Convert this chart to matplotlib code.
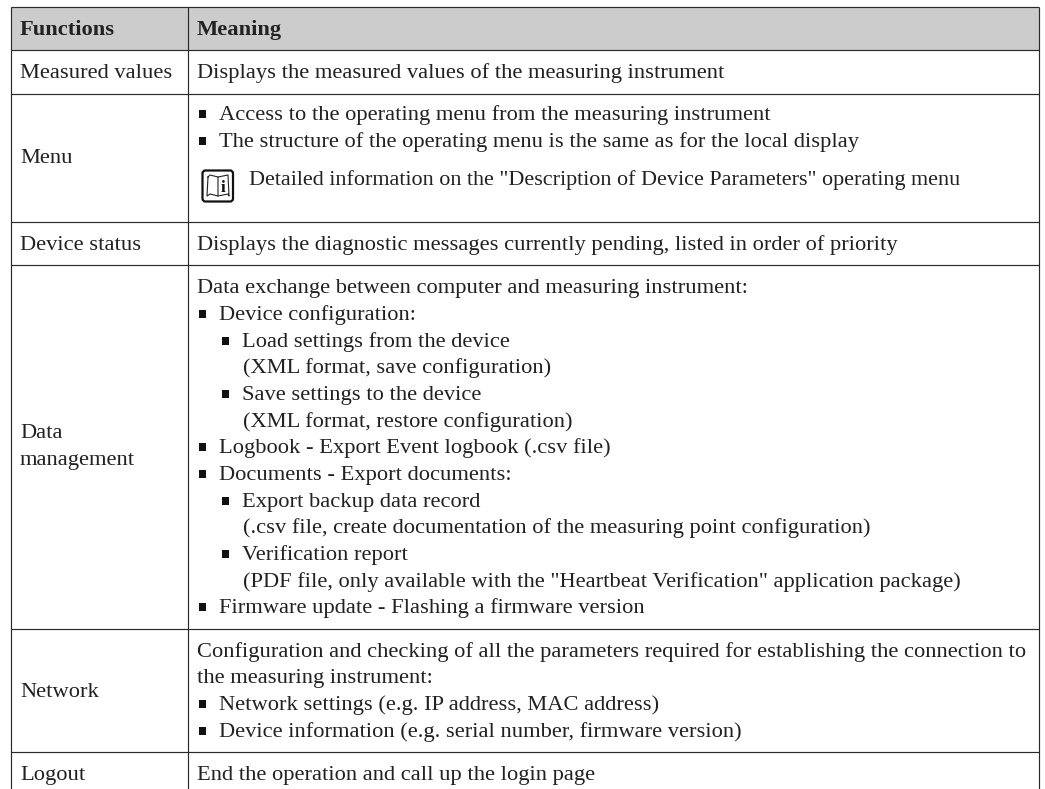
import matplotlib
matplotlib.use("Agg")
import matplotlib.pyplot as plt
from matplotlib.patches import Rectangle, FancyBboxPatch

W, H = 1045, 789
FONT = "Liberation Serif"
FS = 16.2
TXT = "#222222"

headers = ["Functions", "Meaning"]
functions = ["Measured values", "Menu", "Device status", "Data\nmanagement", "Network", "Logout"]

row_lines = [7, 50, 93.5, 222, 265, 628.5, 752]
col_lines = [11, 188, 1039]

function_baselines = [78, 163, 250, 438, 697, 780]

# (level, bullet, text, baseline)
meaning_lines = [
    (0, False, "Displays the measured values of the measuring instrument", 78),
    (1, True, "Access to the operating menu from the measuring instrument", 120),
    (1, True, "The structure of the operating menu is the same as for the local display", 147),
    (0, False, "Displays the diagnostic messages currently pending, listed in order of priority", 250),
    (0, False, "Data exchange between computer and measuring instrument:", 293),
    (1, True, "Device configuration:", 320),
    (2, True, "Load settings from the device", 347),
    (2, False, "(XML format, save configuration)", 373),
    (2, True, "Save settings to the device", 400),
    (2, False, "(XML format, restore configuration)", 427),
    (1, True, "Logbook - Export Event logbook (.csv file)", 453),
    (1, True, "Documents - Export documents:", 480),
    (2, True, "Export backup data record", 507),
    (2, False, "(.csv file, create documentation of the measuring point configuration)", 533),
    (2, True, "Verification report", 560),
    (2, False, "(PDF file, only available with the \"Heartbeat Verification\" application package)", 587),
    (1, True, "Firmware update - Flashing a firmware version", 613),
    (0, False, "Configuration and checking of all the parameters required for establishing the connection to", 657),
    (0, False, "the measuring instrument:", 683),
    (1, True, "Network settings (e.g. IP address, MAC address)", 710),
    (1, True, "Device information (e.g. serial number, firmware version)", 737),
    (0, False, "End the operation and call up the login page", 780),
]
note_text = "Detailed information on the \"Description of Device Parameters\" operating menu"
note_baseline = 185

level_x = {0: 197, 1: 219, 2: 242}
bullet_x = {1: 202.5, 2: 225}

fig = plt.figure(figsize=(W / 100, H / 100), dpi=100)
ax = fig.add_axes([0, 0, 1, 1])
ax.set_xlim(0, W)
ax.set_ylim(H, 0)
ax.axis("off")

ax.add_patch(Rectangle((col_lines[0], row_lines[0]), col_lines[2] - col_lines[0],
                       row_lines[1] - row_lines[0], fc="#cccccc", ec="none", zorder=0))
for y in row_lines:
    ax.plot([col_lines[0], col_lines[2]], [y, y], color="#2a2a2a", lw=0.85, zorder=2, solid_capstyle="butt")
for x in col_lines:
    ax.plot([x, x], [row_lines[0], H], color="#2a2a2a", lw=0.85, zorder=2, solid_capstyle="butt")


def put(x, y, s, size=FS, **kw):
    ax.text(x, y, s, family=FONT, fontsize=size, color=TXT, va="baseline", ha="left", **kw)


put(20, 35, headers[0], fontweight="bold")
put(197, 35, headers[1], fontweight="bold")

for name, b in zip(functions, function_baselines):
    parts = name.split("\n")
    for i, part in enumerate(parts):
        put(20, b + i * 27, part)

for level, bullet, text, b in meaning_lines:
    x = level_x[level] + (1 if level == 2 and not bullet else 0)
    put(x, b, text)
    if bullet:
        bx = bullet_x[level]
        ax.add_patch(Rectangle((bx - 3.5, b - 10), 7, 7.5, fc="#111111", ec="none", zorder=3))

put(249, note_baseline, note_text, size=15.9)

# book symbol
ax.add_patch(FancyBboxPatch((202.5, 170.5), 30.5, 31, boxstyle="round,pad=0,rounding_size=3",
                            fc="white", ec="#111111", lw=1.6, zorder=3))
ax.plot([208, 210, 218, 218, 210, 207, 208], [177, 175, 177, 196, 194, 196, 177],
        color="#222222", lw=0.8, zorder=4)
ax.plot([218, 228, 229, 228, 218], [177, 175, 196, 194, 196], color="#222222", lw=0.8, zorder=4)
ax.text(223.5, 192, "i", family=FONT, fontsize=12.5, fontweight="bold", color="#111111",
        ha="center", va="baseline", zorder=5)

fig.savefig("out.png", dpi=100)
